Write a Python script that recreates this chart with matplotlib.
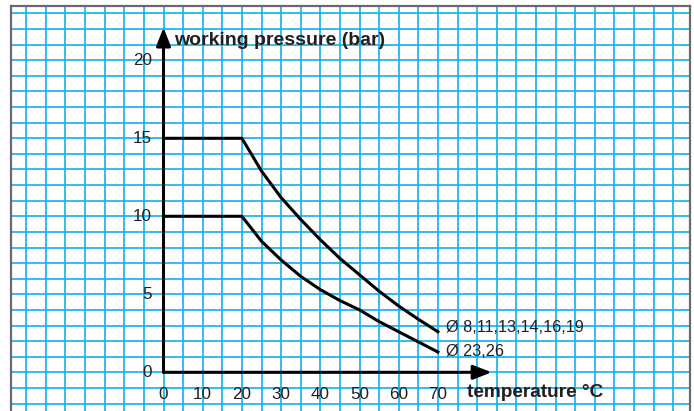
import matplotlib
matplotlib.use("Agg")
import matplotlib.pyplot as plt

# Pressure rating curves (bar) against temperature (°C)
temperature = [0, 20, 25, 30, 35, 40, 45, 50, 55, 60, 65, 70]
pressure_small = [15, 15, 12.9, 11.2, 9.8, 8.5, 7.3, 6.25, 5.2, 4.25, 3.4, 2.6]
pressure_large = [10, 10, 8.4, 7.2, 6.15, 5.3, 4.6, 4.0, 3.25, 2.6, 1.95, 1.3]

label_small = "Ø 8,11,13,14,16,19"
label_large = "Ø 23,26"

x_ticks = [0, 10, 20, 30, 40, 50, 60, 70]
y_ticks = [0, 5, 10, 15, 20]

x_title = "temperature °C"
y_title = "working pressure (bar)"

plt.rcParams["font.family"] = ["Liberation Sans", "DejaVu Sans"]
TEXT = "#231f20"
GRID = "#0fb0ee"

fig = plt.figure(figsize=(6.94, 4.11), dpi=100)
ax = fig.add_axes([11 / 694, 0.0, (690 - 11) / 694, 1 - 6 / 411])
ax.set_xlim(-38.9, 134.3)
ax.set_ylim(-2.48, 23.48)

# graph-paper grid
ax.set_xticks(range(-35, 135, 5))
ax.set_yticks(range(-2, 24))
ax.tick_params(length=0, labelbottom=False, labelleft=False)
ax.grid(True, color=GRID, linewidth=1.2, zorder=0)
ax.set_axisbelow(True)

for side in ("left", "top", "right"):
    ax.spines[side].set_color("#6a6a6a")
    ax.spines[side].set_linewidth(1.6)
ax.spines["bottom"].set_visible(False)

# axes with arrow heads
arrow = dict(arrowstyle="-|>,head_length=1.1,head_width=0.43", lw=2.2,
             color="black", shrinkA=0, shrinkB=0, mutation_scale=10)
ax.annotate("", xy=(0, 22.1), xytext=(0, 0), arrowprops=arrow, zorder=4)
ax.annotate("", xy=(83.7, 0), xytext=(0, 0), arrowprops=arrow, zorder=4)

# curves
ax.plot(temperature, pressure_small, color="black", lw=2.2, zorder=3,
        solid_joinstyle="round")
ax.plot(temperature, pressure_large, color="black", lw=2.2, zorder=3,
        solid_joinstyle="round")

ax.text(temperature[-1] + 2.0, pressure_small[-1] + 0.3, label_small,
        fontsize=11.7, color=TEXT, va="center", ha="left")
ax.text(temperature[-1] + 2.0, pressure_large[-1] + 0.05, label_large,
        fontsize=11.7, color=TEXT, va="center", ha="left")

# tick labels
for v in x_ticks:
    ax.text(v, -1.42, str(v), fontsize=12.3, color=TEXT, ha="center", va="center")
for v in y_ticks:
    ax.text(-3.0, v, str(v), fontsize=12.3, color=TEXT, ha="right", va="center")

ax.text(2.8, 21.0, y_title, fontsize=14, fontweight="bold", color=TEXT,
        ha="left", va="baseline")
ax.text(77.5, -1.6, x_title, fontsize=13.7, fontweight="bold", color=TEXT,
        ha="left", va="baseline")

fig.savefig("out.png", dpi=100)
